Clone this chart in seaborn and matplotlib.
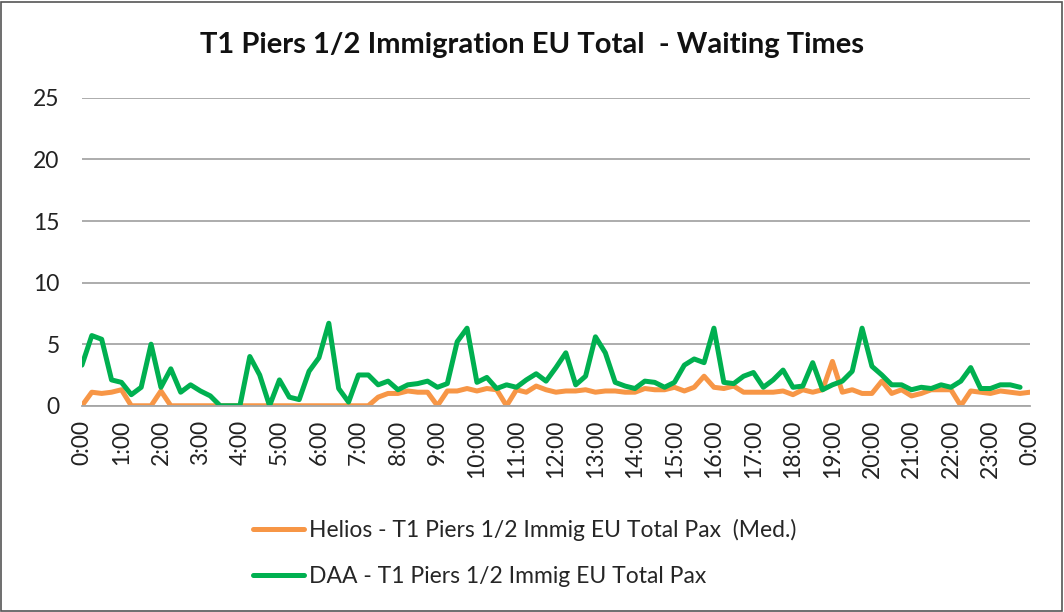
#! /usr/bin/env python3
# coding: utf-8
"""
T1 Piers 1/2 immigration waiting times, Helios vs DAA, 15 minute slots over one day.
"""
import numpy as np
import pandas as pd
import matplotlib
matplotlib.use('Agg')
import matplotlib.pyplot as plt
import seaborn as sb
from matplotlib.patches import Rectangle

# Hour tick labels (every 4th 15-minute slot)
hour_labels = ['0:00', '1:00', '2:00', '3:00', '4:00', '5:00', '6:00', '7:00', '8:00',
               '9:00', '10:00', '11:00', '12:00', '13:00', '14:00', '15:00', '16:00',
               '17:00', '18:00', '19:00', '20:00', '21:00', '22:00', '23:00', '0:00']

# Helios median waiting time, 97 slots 0:00 .. 0:00
helios = [0, 1.1, 1.0, 1.1, 1.3, 0, 0, 0, 1.2, 0,
          0, 0, 0, 0, 0, 0, 0, 0, 0, 0,
          0, 0, 0, 0, 0, 0, 0, 0, 0, 0,
          0.7, 1.0, 1.0, 1.2, 1.1, 1.1, 0, 1.2, 1.2, 1.4,
          1.2, 1.4, 1.3, 0, 1.3, 1.1, 1.6, 1.3, 1.1, 1.2,
          1.2, 1.3, 1.1, 1.2, 1.2, 1.1, 1.1, 1.4, 1.3, 1.3,
          1.5, 1.2, 1.5, 2.4, 1.5, 1.4, 1.6, 1.1, 1.1, 1.1,
          1.1, 1.2, 0.9, 1.3, 1.1, 1.3, 3.6, 1.1, 1.3, 1.0,
          1.0, 2.0, 1.0, 1.3, 0.8, 1.0, 1.3, 1.3, 1.3, 0,
          1.2, 1.1, 1.0, 1.2, 1.1, 1.0, 1.1]

# DAA waiting time, 96 slots 0:00 .. 23:45
daa = [3.3, 5.7, 5.4, 2.1, 1.9, 0.9, 1.5, 5.0, 1.5, 3.0,
       1.1, 1.7, 1.2, 0.8, 0, 0, 0, 4.0, 2.5, 0,
       2.1, 0.7, 0.5, 2.8, 3.9, 6.7, 1.4, 0.3, 2.5, 2.5,
       1.7, 2.0, 1.3, 1.7, 1.8, 2.0, 1.5, 1.8, 5.2, 6.3,
       1.9, 2.3, 1.4, 1.7, 1.5, 2.1, 2.6, 2.0, 3.1, 4.3,
       1.7, 2.4, 5.6, 4.3, 1.9, 1.6, 1.4, 2.0, 1.9, 1.5,
       1.9, 3.3, 3.8, 3.5, 6.3, 1.9, 1.8, 2.4, 2.7, 1.5,
       2.1, 2.9, 1.5, 1.6, 3.5, 1.3, 1.7, 2.0, 2.8, 6.3,
       3.2, 2.5, 1.7, 1.7, 1.3, 1.5, 1.4, 1.7, 1.5, 2.0,
       3.1, 1.4, 1.4, 1.7, 1.7, 1.5]

series_names = ['Helios - T1 Piers 1/2 Immig EU Total Pax  (Med.)',
                'DAA - T1 Piers 1/2 Immig EU Total Pax']
colors = ['#F79646', '#00B050']

if __name__ == '__main__':
    slot = np.arange(len(helios))
    data = pd.concat([
        pd.DataFrame({'slot': slot, 'wait': helios, 'series': series_names[0]}),
        pd.DataFrame({'slot': slot[:len(daa)], 'wait': daa, 'series': series_names[1]}),
    ])

    sb.set_style('white')
    plt.rcParams['font.family'] = ['Lato', 'DejaVu Sans']

    fig = plt.figure(figsize=(10.64, 6.12), dpi=100)
    ax = fig.add_axes([0.077, 0.337, 0.891, 0.503])

    sb.lineplot(data=data, x='slot', y='wait', hue='series', hue_order=series_names,
                palette=colors, linewidth=3.6, ax=ax, legend=True)

    ax.set_xlim(0, len(helios) - 1)
    ax.set_ylim(0, 25)
    ax.set_yticks(range(0, 26, 5))
    ax.set_xticks(range(0, len(helios), 4))
    ax.set_xticklabels(hour_labels, rotation=90)
    ax.tick_params(axis='both', labelsize=16.5, colors='#222222', length=0, pad=10)
    ax.tick_params(axis='y', pad=16)
    ax.set_xlabel('')
    ax.set_ylabel('')

    ax.grid(axis='y', color='#A6A6A6', linewidth=1.3)
    ax.set_axisbelow(True)
    for side in ['top', 'right', 'left']:
        ax.spines[side].set_visible(False)
    ax.spines['bottom'].set_color('#A6A6A6')
    ax.spines['bottom'].set_linewidth(1.3)

    # Title is centred on the whole chart, not on the plot area
    fig.text(0.5, 0.926, 'T1 Piers 1/2 Immigration EU Total  - Waiting Times',
             ha='center', va='center', fontsize=21, fontweight='bold', color='#111111')

    ax.legend(loc='upper left', bbox_to_anchor=(0.159, -0.30), frameon=False,
              fontsize=16.5, handlelength=2.2, labelspacing=1.1, handletextpad=0.25)

    # Chart border
    fig.patches.append(Rectangle((0.001, 0.002), 0.997, 0.995, transform=fig.transFigure,
                                 fill=False, edgecolor='#555555', linewidth=1.2))

    fig.savefig('out.png', dpi=100)
